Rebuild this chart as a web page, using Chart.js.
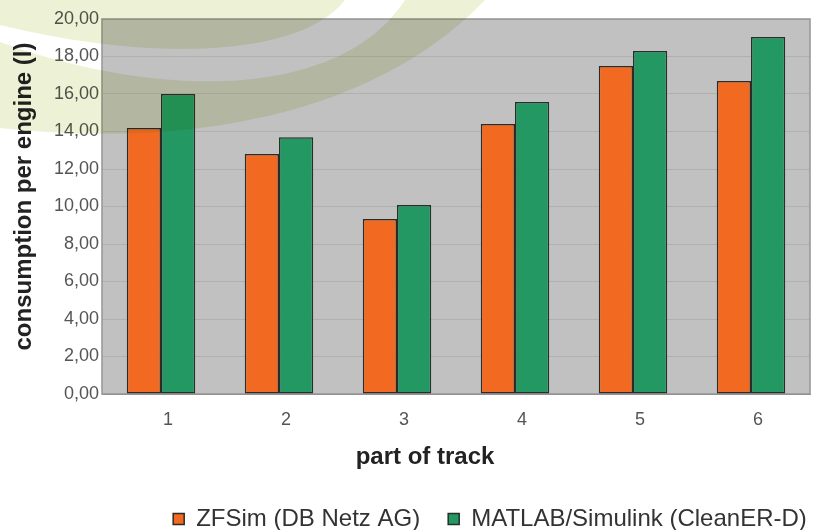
<!DOCTYPE html>
<html>
<head>
<meta charset="utf-8">
<script src="https://cdn.jsdelivr.net/npm/chart.js@4"></script>
<style>
  html, body { margin: 0; padding: 0; background: #fff; }
  #myChart { display: block; }
</style>
</head>
<body>
<canvas id="myChart" width="818" height="530"></canvas>
<script>
"use strict";

const categories = ["1", "2", "3", "4", "5", "6"];
const zfsimValues = [14.19, 12.8, 9.33, 14.4, 17.49, 16.69];
const matlabValues = [16.0, 13.7, 10.08, 15.57, 18.29, 19.04];
const seriesNames = ["ZFSim (DB Netz AG)", "MATLAB/Simulink (CleanER-D)"];
const yMin = 0;
const yMax = 20;
const yStep = 2;
const xTitle = "part of track";
const yTitle = "consumption per engine (l)";

const fontFamily = "'Liberation Sans', Arial, sans-serif";

// grey plot background and frame
const plotBackground = {
  id: "plotBackground",
  beforeDraw(chart) {
    const { ctx, chartArea: a } = chart;
    ctx.save();
    ctx.fillStyle = "#c1c1c1";
    ctx.fillRect(a.left, a.top, a.right - a.left, a.bottom - a.top);
    ctx.restore();
  },
  beforeDatasetsDraw(chart) {
    const { ctx, chartArea: a } = chart;
    ctx.save();
    ctx.strokeStyle = "#959595";
    ctx.lineWidth = 1.5;
    ctx.strokeRect(a.left, a.top, a.right - a.left, a.bottom - a.top);
    ctx.restore();
  },
};

// axis titles, placed a bit off-centre like the original
const axisTitles = {
  id: "axisTitles",
  afterDraw(chart) {
    const { ctx, chartArea: a } = chart;
    ctx.save();
    ctx.fillStyle = "#222";
    ctx.font = "bold 24px " + fontFamily;
    ctx.textAlign = "center";
    ctx.textBaseline = "middle";
    ctx.fillText(xTitle, (a.left + a.right) / 2 - 31, a.bottom + 63);
    ctx.translate(24, (a.top + a.bottom) / 2 - 10);
    ctx.rotate(-Math.PI / 2);
    ctx.fillText(yTitle, 0, 0);
    ctx.restore();
  },
};

// the legend sits right of centre
const legendShift = {
  id: "legendShift",
  afterLayout(chart) {
    chart.legend.left += 85;
    chart.legend.right += 85;
  },
};

// faint green logo swoosh over the top-left corner
const watermark = {
  id: "watermark",
  afterDraw(chart) {
    const { ctx } = chart;
    ctx.save();
    ctx.globalCompositeOperation = "multiply";
    ctx.fillStyle = "#edf2d6";
    ctx.beginPath();
    ctx.moveTo(0, 0);
    ctx.lineTo(0, 25);
    ctx.bezierCurveTo(150, 62, 300, 58, 345, 0);
    ctx.closePath();
    ctx.fill();
    ctx.beginPath();
    ctx.moveTo(0, 42);
    ctx.bezierCurveTo(160, 100, 340, 100, 405, 0);
    ctx.lineTo(485, 0);
    ctx.bezierCurveTo(380, 110, 200, 150, 0, 128);
    ctx.closePath();
    ctx.fill();
    ctx.restore();
  },
};

const ctx = document.getElementById("myChart").getContext("2d");
const myChart = new Chart(ctx, {
  type: "bar",
  data: {
    labels: categories,
    datasets: [
      {
        label: seriesNames[0],
        data: zfsimValues,
        backgroundColor: "#f26a21",
        borderColor: "#2e2a26",
        borderWidth: 1.5,
        borderSkipped: false,
      },
      {
        label: seriesNames[1],
        data: matlabValues,
        backgroundColor: "#239862",
        borderColor: "#25302a",
        borderWidth: 1.5,
        borderSkipped: false,
      },
    ],
  },
  options: {
    responsive: false,
    animation: false,
    devicePixelRatio: 1,
    layout: {
      padding: { top: 19, right: 8, left: 0, bottom: 0 },
    },
    datasets: {
      bar: {
        categoryPercentage: 0.58,
        barPercentage: 1.0,
      },
    },
    plugins: {
      tooltip: { enabled: false },
      legend: {
        position: "bottom",
        maxHeight: 51,
        labels: {
          boxWidth: 11,
          boxHeight: 11,
          padding: 28,
          color: "#333",
          font: { family: fontFamily, size: 24 },
        },
      },
    },
    scales: {
      x: {
        grid: { display: false, drawTicks: false },
        border: { display: true, color: "#8a8a8a", width: 1 },
        ticks: {
          color: "#555",
          padding: 15,
          labelOffset: 7,
          font: { family: fontFamily, size: 18 },
        },
        afterFit(scale) {
          scale.height = 85;
        },
      },
      y: {
        min: yMin,
        max: yMax,
        grid: { color: "#b0b0b0", lineWidth: 1, drawTicks: false },
        border: { display: false },
        ticks: {
          stepSize: yStep,
          color: "#555",
          padding: 3,
          font: { family: fontFamily, size: 18 },
          callback: (value) => value.toFixed(2).replace(".", ","),
        },
        afterFit(scale) {
          scale.width = 102;
        },
      },
    },
  },
  plugins: [plotBackground, axisTitles, legendShift, watermark],
});
</script>
</body>
</html>
